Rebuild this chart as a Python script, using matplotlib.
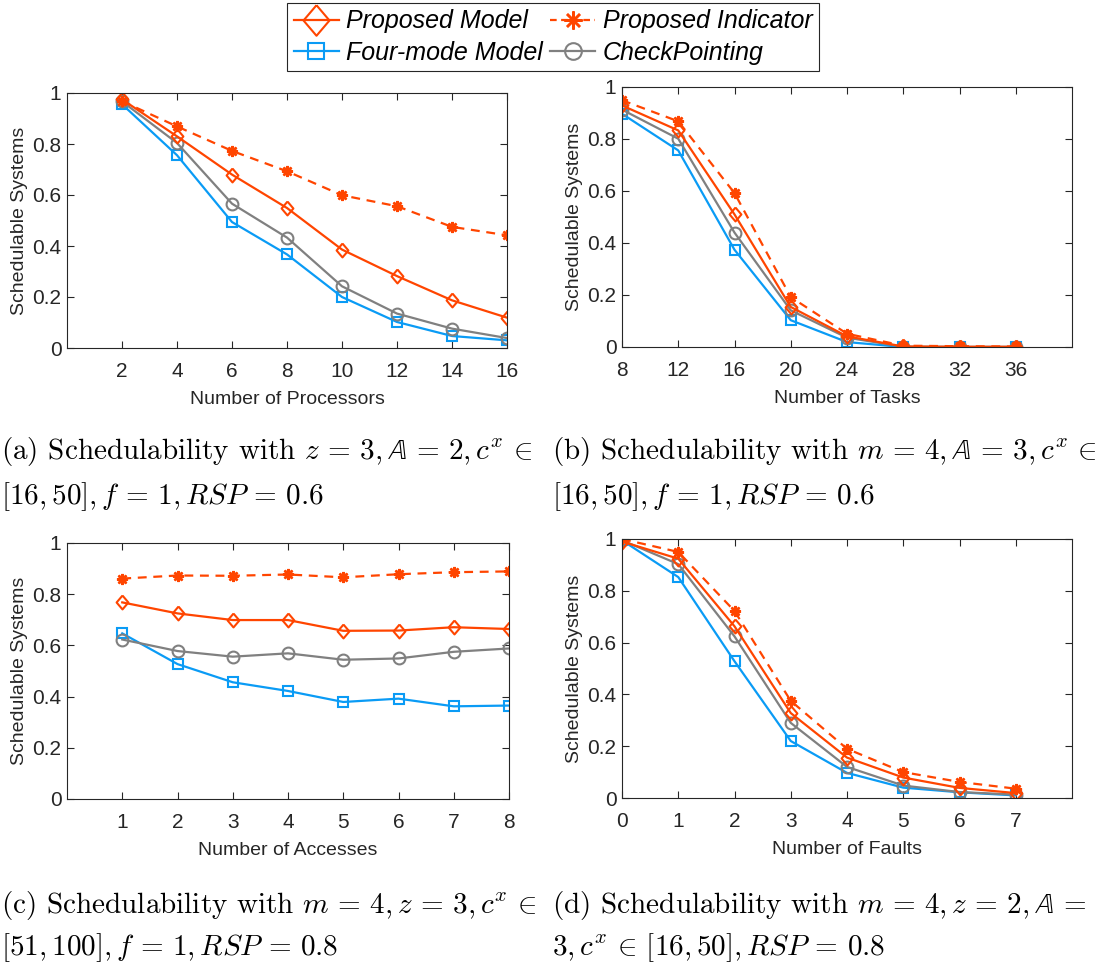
import numpy as np
import matplotlib.pyplot as plt
from matplotlib.lines import Line2D

# ---------------- data ----------------
x_proc = [2, 4, 6, 8, 10, 12, 14, 16]
a_model = [0.975, 0.83, 0.68, 0.549, 0.386, 0.282, 0.187, 0.119]
a_indic = [0.968, 0.869, 0.773, 0.693, 0.599, 0.556, 0.475, 0.442]
a_four = [0.956, 0.756, 0.494, 0.367, 0.200, 0.102, 0.047, 0.030]
a_check = [0.967, 0.804, 0.566, 0.433, 0.242, 0.135, 0.076, 0.039]

x_tasks = [8, 12, 16, 20, 24, 28, 32, 36]
b_model = [0.929, 0.833, 0.510, 0.154, 0.041, 0.002, 0.001, 0.001]
b_indic = [0.949, 0.868, 0.592, 0.192, 0.051, 0.005, 0.003, 0.002]
b_four = [0.897, 0.756, 0.374, 0.103, 0.019, 0.000, 0.000, 0.000]
b_check = [0.913, 0.801, 0.440, 0.141, 0.036, 0.001, 0.000, 0.000]

x_acc = [1, 2, 3, 4, 5, 6, 7, 8]
c_model = [0.768, 0.725, 0.699, 0.699, 0.657, 0.658, 0.671, 0.664]
c_indic = [0.861, 0.873, 0.872, 0.877, 0.866, 0.878, 0.886, 0.889]
c_four = [0.647, 0.527, 0.456, 0.422, 0.379, 0.392, 0.362, 0.365]
c_check = [0.623, 0.578, 0.556, 0.569, 0.544, 0.549, 0.575, 0.588]

x_faults = [0, 1, 2, 3, 4, 5, 6, 7]
d_model = [0.990, 0.924, 0.663, 0.328, 0.156, 0.079, 0.039, 0.019]
d_indic = [1.000, 0.950, 0.722, 0.375, 0.190, 0.100, 0.062, 0.036]
d_four = [0.995, 0.853, 0.528, 0.220, 0.097, 0.040, 0.022, 0.010]
d_check = [0.995, 0.903, 0.624, 0.290, 0.120, 0.048, 0.023, 0.013]

xlabels = ["Number of Processors", "Number of Tasks", "Number of Accesses", "Number of Faults"]
captions = [
    (r"(a) Schedulability with $z\,=\,3,\mathbb{A}\,=\,2,c^x\,\in$",
     r"$[16,50],f\,=\,1,RSP\,=\,0.6$"),
    (r"(b) Schedulability with $m\,=\,4,\mathbb{A}\,=\,3,c^x\,\in$",
     r"$[16,50],f\,=\,1,RSP\,=\,0.6$"),
    (r"(c) Schedulability with $m\,=\,4,z\,=\,3,c^x\,\in$",
     r"$[51,100],f\,=\,1,RSP\,=\,0.8$"),
    (r"(d) Schedulability with $m\,=\,4,z\,=\,2,\mathbb{A}\,=$",
     r"$3,c^x\,\in\,[16,50],RSP\,=\,0.8$"),
]

ORANGE = "#FF4500"
BLUE = "#0A9BF5"
GRAY = "#808080"

plt.rcParams['font.family'] = ['Liberation Sans', 'DejaVu Sans']
plt.rcParams['mathtext.fontset'] = 'cm'

# MATLAB-like diamond (a bit narrower than tall)
diamond = [(0, 1), (0.85, 0), (0, -1), (-0.85, 0), (0, 1)]

fig = plt.figure(figsize=(10.97, 9.76), dpi=100)
W, H = 1097.0, 976.0

def px_axes(l, t, r, b):
    return fig.add_axes([l / W, 1 - b / H, (r - l) / W, (b - t) / H])

panels = [
    (px_axes(67, 93, 507, 348), x_proc, (0, 16), [a_model, a_indic, a_four, a_check]),
    (px_axes(622, 87, 1072, 347), x_tasks, (8, 40), [b_model, b_indic, b_four, b_check]),
    (px_axes(67, 543, 509, 799), x_acc, (0, 8), [c_model, c_indic, c_four, c_check]),
    (px_axes(622, 539, 1072, 798), x_faults, (0, 8), [d_model, d_indic, d_four, d_check]),
]

lw = 1.6
for i, (ax, xs, xl, ys) in enumerate(panels):
    model, indic, four, check = ys
    ax.plot(xs, four, color=BLUE, lw=lw, marker='s', ms=6.5, mfc='none', mew=1.5)
    ax.plot(xs, check, color=GRAY, lw=lw, marker='o', ms=8.5, mfc='none', mew=1.5)
    ax.plot(xs, indic, color=ORANGE, lw=lw, ls=(0, (4, 3)), marker=(8, 2, 0), ms=8, mew=1.8)
    ax.plot(xs, model, color=ORANGE, lw=lw, marker=diamond, ms=10, mfc='none', mew=1.5)
    ax.set_xlim(*xl)
    ax.set_ylim(0, 1)
    ax.set_xticks(xs)
    ax.set_yticks([0, 0.2, 0.4, 0.6, 0.8, 1])
    ax.set_yticklabels(["0", "0.2", "0.4", "0.6", "0.8", "1"])
    ax.tick_params(direction='in', top=True, right=True, labelsize=15, colors='#262626',
                   length=5, width=0.8)
    ax.tick_params(axis='x', pad=10)
    ax.tick_params(axis='y', pad=4)
    for s in ax.spines.values():
        s.set_color('#262626')
        s.set_linewidth(0.8)
    ax.set_xlabel(xlabels[i], fontsize=14, color='#262626', labelpad=7)
    ax.set_ylabel("Schedulable Systems", fontsize=14, color='#262626', labelpad=3)

# captions
cap_pos = [(1, 452, 497), (552, 452, 497), (1, 905, 948), (552, 905, 948)]
for (l1, l2), (x0, y1, y2) in zip(captions, cap_pos):
    fig.text(x0 / W, 1 - y1 / H, l1, fontsize=21, family='cmr10', va='center', ha='left')
    fig.text(x0 / W, 1 - y2 / H, l2, fontsize=21, family='cmr10', va='center', ha='left')

# legend
handles = [
    Line2D([], [], color=ORANGE, lw=lw, marker=diamond, ms=22, mfc='none', mew=1.5),
    Line2D([], [], color=BLUE, lw=lw, marker='s', ms=12, mfc='none', mew=1.5),
    Line2D([], [], color=ORANGE, lw=lw, ls=(0, (3, 2)), marker=(8, 2, 0), ms=13, mew=1.8),
    Line2D([], [], color=GRAY, lw=lw, marker='o', ms=12, mfc='none', mew=1.5),
]
labels = ["Proposed Model", "Four-mode Model", "Proposed Indicator", "CheckPointing"]
leg = fig.legend(handles, labels, ncol=2, loc='upper center', bbox_to_anchor=(553 / W, 1 - 3 / H),
                 fancybox=False, edgecolor='#262626', framealpha=1,
                 prop={'style': 'italic', 'size': 18}, handlelength=1.8, handletextpad=0.3,
                 columnspacing=0.3, labelspacing=0.3, borderpad=0.25, borderaxespad=0)
leg.get_frame().set_linewidth(0.8)

fig.savefig("out.png", dpi=100)
